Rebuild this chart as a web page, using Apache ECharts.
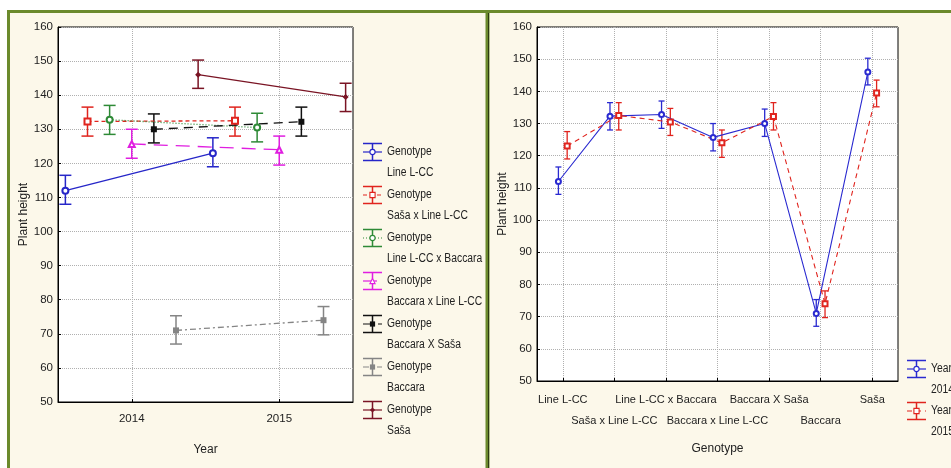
<!DOCTYPE html>
<html>
<head>
<meta charset="utf-8">
<script src="https://cdn.jsdelivr.net/npm/echarts@6/dist/echarts.min.js"></script>
<style>
  html, body { margin: 0; padding: 0; background: #fff; }
  #chart { width: 951px; height: 468px; }
</style>
</head>
<body>
<div id="chart"></div>
<script>
// 数据
const years = ['2014', '2015'];
const genotypes = ['Line L-CC', 'Saša x Line L-CC', 'Line L-CC x Baccara', 'Baccara x Line L-CC', 'Baccara X Saša', 'Baccara', 'Saša'];
const mean2014 = [112, 132.3, 132.8, 125.7, 130, 71, 146];
const low2014 = [108, 128, 128.5, 121.5, 126, 67, 142];
const high2014 = [116.5, 136.5, 137, 130, 134.5, 75.3, 150.3];
const mean2015 = [123, 132.5, 130.5, 124, 132.2, 74, 139.5];
const low2015 = [119, 128, 126.3, 119.5, 128, 69.7, 135.2];
const high2015 = [127.5, 136.5, 134.7, 128, 136.5, 78, 143.5];
const yMin = 50, yMax = 160, yStep = 10;

const means = [mean2014, mean2015];
const lows = [low2014, low2015];
const highs = [high2014, high2015];

// 样式
const NARROW = '"Liberation Sans Narrow", "Arial Narrow", "Liberation Sans", Arial, sans-serif';
const FS = 11;
const textColor = '#222';
const genoStyle = [
  { color: '#2626c8', type: 'solid', symbol: 'emptyCircle' },
  { color: '#e0241e', type: [4, 3], symbol: 'emptyRect' },
  { color: '#2e8a36', type: [1, 2], symbol: 'emptyCircle' },
  { color: '#e01ee0', type: [14, 8], symbol: 'emptyTriangle' },
  { color: '#111111', type: [9, 6], symbol: 'rect' },
  { color: '#858585', type: [6, 3, 2, 3], symbol: 'rect' },
  { color: '#7a1424', type: 'solid', symbol: 'diamond' }
];
const yearStyle = [
  { color: '#2a2ad0', type: 'solid', symbol: 'emptyCircle' },
  { color: '#e0241e', type: [5, 4], symbol: 'emptyRect' }
];
const dodgeL = 0.15;  // 左图各基因型的水平错开
const dodgeR = 0.085; // 右图两年的水平错开

function errorSeries(xi, yi, data, color, cap, width) {
  return {
    type: 'custom',
    xAxisIndex: xi,
    yAxisIndex: yi,
    data: data,
    z: 2,
    silent: true,
    renderItem: function (params, api) {
      const x = api.value(0);
      const a = api.coord([x, api.value(2)]);
      const b = api.coord([x, api.value(1)]);
      const h = cap / 2;
      const st = { stroke: color, lineWidth: width, fill: null };
      return {
        type: 'group',
        children: [
          { type: 'line', shape: { x1: a[0], y1: a[1], x2: b[0], y2: b[1] }, style: st },
          { type: 'line', shape: { x1: a[0] - h, y1: a[1], x2: a[0] + h, y2: a[1] }, style: st },
          { type: 'line', shape: { x1: b[0] - h, y1: b[1], x2: b[0] + h, y2: b[1] }, style: st }
        ]
      };
    }
  };
}

const series = [];
genotypes.forEach(function (g, gi) {
  const s = genoStyle[gi];
  const off = (gi - 3) * dodgeL;
  series.push(errorSeries(1, 0, years.map(function (y, i) {
    return [i + 0.5 + off, lows[i][gi], highs[i][gi]];
  }), s.color, 12, 1.5));
  series.push({
    type: 'line',
    name: g,
    xAxisIndex: 1,
    yAxisIndex: 0,
    data: years.map(function (y, i) { return [i + 0.5 + off, means[i][gi]]; }),
    symbol: s.symbol,
    symbolSize: 6,
    z: 3,
    lineStyle: { color: s.color, type: s.type, width: 1.3 },
    itemStyle: { color: s.color, borderWidth: 1.1 }
  });
});
years.forEach(function (y, yi) {
  const s = yearStyle[yi];
  const off = (yi === 0 ? -1 : 1) * dodgeR;
  series.push(errorSeries(3, 1, genotypes.map(function (g, gi) {
    return [gi + 0.5 + off, lows[yi][gi], highs[yi][gi]];
  }), s.color, 6, 1.3));
  series.push({
    type: 'line',
    name: 'Year ' + y,
    xAxisIndex: 3,
    yAxisIndex: 1,
    data: genotypes.map(function (g, gi) { return [gi + 0.5 + off, means[yi][gi]]; }),
    symbol: s.symbol,
    symbolSize: 5,
    z: 3,
    lineStyle: { color: s.color, type: s.type, width: 1.1 },
    itemStyle: { color: s.color, borderWidth: 1 }
  });
});

// 图例（手绘）
function legendMarker(sym, color, cx, cy) {
  const r = 2.6;
  if (sym === 'emptyCircle') return { type: 'circle', shape: { cx: cx, cy: cy, r: r }, style: { fill: '#fff', stroke: color, lineWidth: 1.1 } };
  if (sym === 'emptyRect') return { type: 'rect', shape: { x: cx - r, y: cy - r, width: 2 * r, height: 2 * r }, style: { fill: '#fff', stroke: color, lineWidth: 1.1 } };
  if (sym === 'emptyTriangle') return { type: 'polygon', shape: { points: [[cx, cy - r], [cx + r, cy + r], [cx - r, cy + r]] }, style: { fill: '#fff', stroke: color, lineWidth: 1.1 } };
  if (sym === 'rect') return { type: 'rect', shape: { x: cx - r, y: cy - r, width: 2 * r, height: 2 * r }, style: { fill: color } };
  if (sym === 'diamond') return { type: 'polygon', shape: { points: [[cx, cy - r], [cx + r, cy], [cx, cy + r], [cx - r, cy]] }, style: { fill: color } };
  return { type: 'circle', shape: { cx: cx, cy: cy, r: r }, style: { fill: color } };
}
function legendEntry(x, y, st, line1, line2) {
  const w = 19, h = 8.5, cx = x + w / 2;
  const ls = { stroke: st.color, lineWidth: 1.5 };
  const ts = { font: '12px ' + NARROW, fill: textColor, verticalAlign: 'middle' };
  return [
    { type: 'line', shape: { x1: x, y1: y, x2: x + w, y2: y }, style: { stroke: st.color, lineWidth: 1.2, lineDash: st.type === 'solid' ? null : st.type } },
    { type: 'line', shape: { x1: x, y1: y - h, x2: x + w, y2: y - h }, style: ls },
    { type: 'line', shape: { x1: x, y1: y + h, x2: x + w, y2: y + h }, style: ls },
    { type: 'line', shape: { x1: cx, y1: y - h, x2: cx, y2: y + h }, style: ls },
    legendMarker(st.symbol, st.color, cx, y),
    { type: 'text', x: x + 24, y: y, scaleX: 0.86, style: Object.assign({ text: line1 }, ts) },
    { type: 'text', x: x + 24, y: y + 21, scaleX: 0.86, style: Object.assign({ text: line2 }, ts) }
  ];
}

const green = '#6b8a2c';
let graphics = [
  { type: 'rect', shape: { x: 0, y: 0, width: 951, height: 10 }, style: { fill: '#fff' } },
  { type: 'rect', shape: { x: 0, y: 0, width: 7, height: 468 }, style: { fill: '#fff' } },
  { type: 'line', shape: { x1: 7, y1: 11.5, x2: 951, y2: 11.5 }, style: { stroke: green, lineWidth: 3 } },
  { type: 'line', shape: { x1: 8.5, y1: 10, x2: 8.5, y2: 468 }, style: { stroke: green, lineWidth: 3 } },
  { type: 'line', shape: { x1: 487.5, y1: 10, x2: 487.5, y2: 468 }, style: { stroke: green, lineWidth: 4 } },
  { type: 'line', shape: { x1: 488.5, y1: 13, x2: 488.5, y2: 468 }, style: { stroke: '#2c3a12', lineWidth: 1 } }
];
genotypes.forEach(function (g, gi) {
  graphics = graphics.concat(legendEntry(363, 152 + gi * 43, genoStyle[gi], 'Genotype', g));
});
years.forEach(function (y, yi) {
  graphics = graphics.concat(legendEntry(907, 369 + yi * 42, yearStyle[yi], 'Year', y));
});

function catAxis(gi, data, name, nameGap, labelExtra) {
  return Object.assign({
    gridIndex: gi,
    type: 'category',
    data: data,
    boundaryGap: true,
    name: name,
    nameLocation: 'middle',
    nameGap: nameGap,
    nameTextStyle: { color: textColor, fontSize: FS + 1, fontFamily: NARROW },
    axisLine: { lineStyle: { color: '#000', width: 1 } },
    axisTick: { show: true, alignWithLabel: true, inside: true, length: 3, lineStyle: { color: '#000' } },
    splitLine: { show: true, alignWithLabel: true, lineStyle: { color: '#b0b0b0', type: 'dotted', width: 1 } }
  }, labelExtra);
}
function valAxisY(gi, gap) {
  return {
    gridIndex: gi,
    type: 'value',
    min: yMin,
    max: yMax,
    interval: yStep,
    name: 'Plant height',
    nameLocation: 'middle',
    nameGap: gap,
    nameTextStyle: { color: textColor, fontSize: 12, fontFamily: '"Liberation Sans", Arial, sans-serif' },
    axisLine: { show: true, lineStyle: { color: '#000' } },
    axisTick: { show: true, inside: true, length: 3, lineStyle: { color: '#000' } },
    axisLabel: { color: textColor, fontSize: FS + 0.5, fontFamily: NARROW, margin: 5 },
    splitLine: { show: true, lineStyle: { color: '#b0b0b0', type: 'dotted', width: 1 } }
  };
}

const chart = echarts.init(document.getElementById('chart'));
chart.setOption({
  animation: false,
  backgroundColor: '#fcf8ea',
  graphic: { elements: graphics },
  grid: [
    { left: 58, top: 27, width: 295, height: 375, show: true, backgroundColor: '#fff', borderColor: '#000', borderWidth: 1 },
    { left: 537, top: 27, width: 361, height: 354, show: true, backgroundColor: '#fff', borderColor: '#000', borderWidth: 1 }
  ],
  xAxis: [
    catAxis(0, years, 'Year', 42, {
      axisLabel: { color: textColor, fontSize: FS + 0.5, fontFamily: NARROW, margin: 11 }
    }),
    { gridIndex: 0, type: 'value', min: 0, max: years.length, show: false },
    catAxis(1, genotypes, 'Genotype', 62, {
      axisLabel: {
        color: textColor, fontSize: FS, fontFamily: NARROW, margin: 8, interval: 0, lineHeight: 21,
        formatter: function (v, i) { return i % 2 ? '\n' + v : v; }
      }
    }),
    { gridIndex: 1, type: 'value', min: 0, max: genotypes.length, show: false }
  ],
  yAxis: [valAxisY(0, 26), valAxisY(1, 25)],
  series: series
});
</script>
</body>
</html>
